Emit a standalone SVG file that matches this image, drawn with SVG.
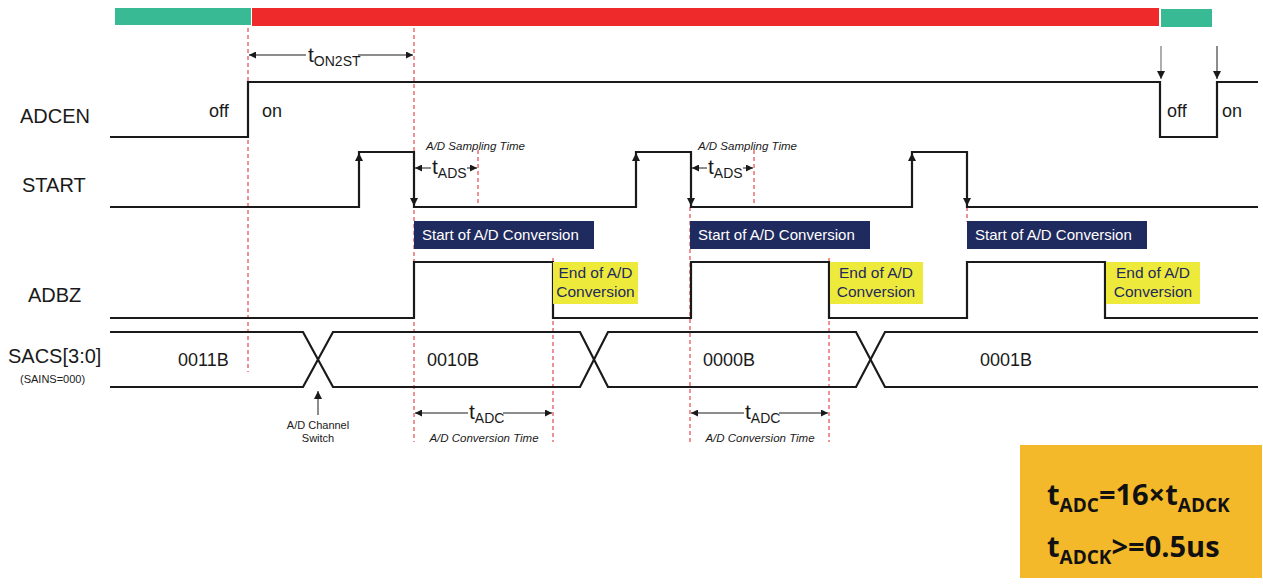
<svg xmlns="http://www.w3.org/2000/svg" width="1263" height="584" viewBox="0 0 1263 584">
<defs>
<style>
.sig{fill:none;stroke:#1a1a1a;stroke-width:2.2}
.dash{stroke:#e0252b;stroke-width:1;stroke-dasharray:4,3;fill:none}
.thin{stroke:#1a1a1a;stroke-width:1;fill:none}
.lbl{font-family:"Liberation Sans",Arial,sans-serif;fill:#1a1a1a}
.it{font-family:"Liberation Sans",Arial,sans-serif;font-style:italic;font-size:11.5px;fill:#1a1a1a}
.navy{fill:#1f2a5e}
.yel{fill:#eeea3c}
.wt{font-family:"Liberation Sans",Arial,sans-serif;font-size:15px;fill:#ffffff}
.nt{font-family:"Liberation Sans",Arial,sans-serif;font-size:15.5px;fill:#1f2a5e}
.big{font-family:"Open Sans","Liberation Sans",sans-serif;font-weight:bold;fill:#111}
</style>
<marker id="ah" viewBox="0 0 10 10" refX="10" refY="5" markerWidth="7" markerHeight="7" markerUnits="userSpaceOnUse" orient="auto-start-reverse"><path d="M0,0 L10,5 L0,10 z" fill="#1a1a1a"/></marker>
<marker id="ahb" viewBox="0 0 10 10" refX="10" refY="5" markerWidth="12" markerHeight="8" markerUnits="userSpaceOnUse" orient="auto"><path d="M0,0 L10,5 L0,10 z" fill="#1a1a1a"/></marker>
</defs>
<rect width="1263" height="584" fill="#ffffff"/>

<g id="status-bar">
<rect x="115" y="8" width="136" height="17" fill="#38bb94"/>
<rect x="252" y="8" width="907" height="18" fill="#ee2a2a"/>
<rect x="1161" y="9" width="51" height="18" fill="#38bb94"/>
</g>

<g id="signal-labels">
<text class="lbl" x="20" y="123" font-size="20">ADCEN</text>
<text class="lbl" x="22" y="192" font-size="20">START</text>
<text class="lbl" x="28" y="302" font-size="20">ADBZ</text>
<text class="lbl" x="8" y="363" font-size="20">SACS[3:0]</text>
<text class="lbl" x="20" y="383" font-size="11">(SAINS=000)</text>
</g>

<g id="guides">
<line class="dash" x1="248" y1="28" x2="248" y2="372"/>
<line class="dash" x1="414" y1="28" x2="414" y2="442"/>
<line class="dash" x1="478" y1="150" x2="478" y2="206"/>
<line class="dash" x1="553" y1="258" x2="553" y2="442"/>
<line class="dash" x1="690" y1="207" x2="690" y2="442"/>
<line class="dash" x1="754" y1="150" x2="754" y2="206"/>
<line class="dash" x1="829" y1="258" x2="829" y2="442"/>
<line class="dash" x1="967" y1="207" x2="967" y2="222"/>
</g>

<g id="ADCEN">
<path class="sig" d="M110,137 H248 V82 H1160 V137 H1217 V82 H1258"/>
<text class="lbl" x="209" y="117" font-size="18">off</text>
<text class="lbl" x="262" y="117" font-size="18">on</text>
<text class="lbl" x="1167" y="117" font-size="18">off</text>
<text class="lbl" x="1222" y="117" font-size="18">on</text>
</g>

<g id="START">
<path class="sig" d="M110,207 H359 V152 H414 V207 H636 V152 H691 V207 H912 V152 H967 V207 H1258"/>
</g>

<g id="ADBZ">
<path class="sig" d="M110,318 H414 V262 H553 V318 H691 V262 H829 V318 H967 V262 H1105 V318 H1258"/>
</g>

<g id="SACS">
<path class="sig" d="M110,332 H303 L333,387 H580 L608,332 H856 L885,387 H1258"/>
<path class="sig" d="M110,387 H303 L333,332 H580 L608,387 H856 L885,332 H1258"/>
<text class="lbl" x="178" y="366" font-size="18">0011B</text>
<text class="lbl" x="427" y="366" font-size="18">0010B</text>
<text class="lbl" x="703" y="366" font-size="18">0000B</text>
<text class="lbl" x="980" y="366" font-size="18">0001B</text>
</g>

<g id="connectors">
<line class="thin" x1="359" y1="175" x2="359" y2="153" marker-end="url(#ahb)"/>
<line class="thin" x1="414" y1="185" x2="414" y2="206" marker-end="url(#ahb)"/>
<line class="thin" x1="636" y1="175" x2="636" y2="153" marker-end="url(#ahb)"/>
<line class="thin" x1="691" y1="185" x2="691" y2="206" marker-end="url(#ahb)"/>
<line class="thin" x1="912" y1="175" x2="912" y2="153" marker-end="url(#ahb)"/>
<line class="thin" x1="967" y1="185" x2="967" y2="206" marker-end="url(#ahb)"/>
<line x1="1161" y1="46" x2="1161" y2="79" stroke="#777" stroke-width="1.2" marker-end="url(#ahb)"/>
<line class="thin" x1="1217" y1="46" x2="1217" y2="79" stroke-width="1.2" marker-end="url(#ahb)"/>
<line class="thin" x1="306" y1="55" x2="249" y2="55" marker-end="url(#ah)"/>
<line class="thin" x1="358" y1="55" x2="413" y2="55" marker-end="url(#ah)"/>
<line class="thin" x1="431" y1="168" x2="415" y2="168" marker-end="url(#ah)"/>
<line class="thin" x1="467" y1="168" x2="477" y2="168" marker-end="url(#ah)"/>
<line class="thin" x1="707" y1="168" x2="692" y2="168" marker-end="url(#ah)"/>
<line class="thin" x1="743" y1="168" x2="753" y2="168" marker-end="url(#ah)"/>
<line class="thin" x1="468" y1="413" x2="415" y2="413" marker-end="url(#ah)"/>
<line class="thin" x1="503" y1="413" x2="552" y2="413" marker-end="url(#ah)"/>
<line class="thin" x1="744" y1="413" x2="691" y2="413" marker-end="url(#ah)"/>
<line class="thin" x1="779" y1="413" x2="828" y2="413" marker-end="url(#ah)"/>
<line class="thin" x1="318" y1="415" x2="318" y2="391" stroke-width="1.2" marker-end="url(#ahb)"/>
</g>

<g id="timing-labels">
<text class="lbl" x="308" y="62" font-size="21">t<tspan font-size="14" dy="4">ON2ST</tspan></text>
<text class="it" x="426" y="150">A/D Sampling Time</text>
<text class="lbl" x="432" y="174" font-size="21">t<tspan font-size="14" dy="4">ADS</tspan></text>
<text class="it" x="698" y="150">A/D Sampling Time</text>
<text class="lbl" x="708" y="174" font-size="21">t<tspan font-size="14" dy="4">ADS</tspan></text>
<text class="lbl" x="469" y="419" font-size="21">t<tspan font-size="14" dy="4">ADC</tspan></text>
<text class="it" x="484" y="442" text-anchor="middle">A/D Conversion Time</text>
<text class="lbl" x="745" y="419" font-size="21">t<tspan font-size="14" dy="4">ADC</tspan></text>
<text class="it" x="760" y="442" text-anchor="middle">A/D Conversion Time</text>
<text class="lbl" x="318" y="429" font-size="11" text-anchor="middle">A/D Channel</text>
<text class="lbl" x="318" y="442" font-size="11" text-anchor="middle">Switch</text>
</g>

<g id="start-conv-1">
<rect class="navy" x="414" y="221" width="180" height="28"/>
<text class="wt" x="422" y="240">Start of A/D Conversion</text>
</g>
<g id="start-conv-2">
<rect class="navy" x="690" y="221" width="180" height="28"/>
<text class="wt" x="698" y="240">Start of A/D Conversion</text>
</g>
<g id="start-conv-3">
<rect class="navy" x="967" y="221" width="180" height="28"/>
<text class="wt" x="975" y="240">Start of A/D Conversion</text>
</g>

<g id="end-conv-1">
<rect class="yel" x="553" y="262" width="85" height="42"/>
<text class="nt" x="595.5" y="278" text-anchor="middle">End of A/D</text>
<text class="nt" x="595.5" y="297" text-anchor="middle">Conversion</text>
</g>
<g id="end-conv-2">
<rect class="yel" x="830" y="262" width="93" height="42"/>
<text class="nt" x="876" y="278" text-anchor="middle">End of A/D</text>
<text class="nt" x="876" y="297" text-anchor="middle">Conversion</text>
</g>
<g id="end-conv-3">
<rect class="yel" x="1106" y="262" width="94" height="42"/>
<text class="nt" x="1153" y="278" text-anchor="middle">End of A/D</text>
<text class="nt" x="1153" y="297" text-anchor="middle">Conversion</text>
</g>

<g id="formula">
<rect x="1020" y="445" width="242" height="133" fill="#f4b92b"/>
<text class="big" x="1047" y="505" font-size="29">t<tspan font-size="19" dy="7">ADC</tspan><tspan dy="-7">=16×t</tspan><tspan font-size="19" dy="7">ADCK</tspan></text>
<text class="big" x="1047" y="557" font-size="29">t<tspan font-size="19" dy="7">ADCK</tspan><tspan dy="-7">&gt;=0.5us</tspan></text>
</g>
</svg>
